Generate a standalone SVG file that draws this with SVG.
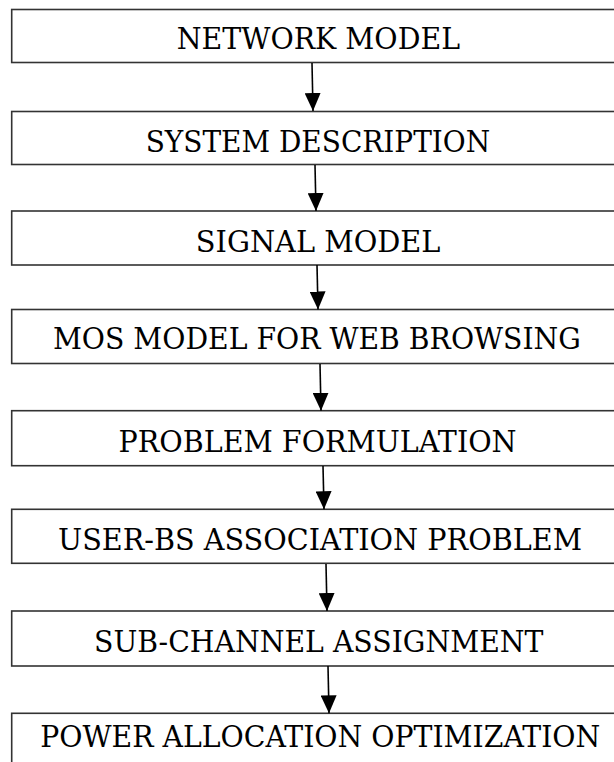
<svg xmlns="http://www.w3.org/2000/svg" width="614" height="762" viewBox="0 0 614 762">
<defs>
<style>
.box{fill:#fff;stroke:#333;stroke-width:1.6}
.lbl{font-family:'DejaVu Serif',serif;font-size:30px;fill:#000}
.conn{stroke:#000;stroke-width:1.6;fill:none}
</style>
<marker id="ah" markerWidth="18" markerHeight="16" refX="18" refY="8" orient="auto" markerUnits="userSpaceOnUse">
<path d="M0,0 L18,8 L0,16 Z" fill="#000"/>
</marker>
</defs>
<rect width="614" height="762" fill="#fff"/>
<g id="n1"><rect class="box" x="11.7" y="9.5" width="620" height="53"/><text class="lbl" x="176.7" y="49.3" textLength="283.3" lengthAdjust="spacingAndGlyphs">NETWORK MODEL</text></g>
<g id="n2"><rect class="box" x="11.7" y="111.5" width="620" height="53"/><text class="lbl" x="145.7" y="151.7" textLength="344.5" lengthAdjust="spacingAndGlyphs">SYSTEM DESCRIPTION</text></g>
<g id="n3"><rect class="box" x="11.7" y="211" width="620" height="54"/><text class="lbl" x="195.8" y="251.7" textLength="244.7" lengthAdjust="spacingAndGlyphs">SIGNAL MODEL</text></g>
<g id="n4"><rect class="box" x="11.7" y="309.5" width="620" height="54"/><text class="lbl" x="52.9" y="348.8" textLength="528" lengthAdjust="spacingAndGlyphs">MOS MODEL FOR WEB BROWSING</text></g>
<g id="n5"><rect class="box" x="11.7" y="410.7" width="620" height="55"/><text class="lbl" x="118.6" y="451.7" textLength="398" lengthAdjust="spacingAndGlyphs">PROBLEM FORMULATION</text></g>
<g id="n6"><rect class="box" x="11.7" y="509.3" width="620" height="54"/><text class="lbl" x="58" y="550" textLength="524" lengthAdjust="spacingAndGlyphs">USER-BS ASSOCIATION PROBLEM</text></g>
<g id="n7"><rect class="box" x="11.7" y="611" width="620" height="55"/><text class="lbl" x="94" y="651.7" textLength="449.5" lengthAdjust="spacingAndGlyphs">SUB-CHANNEL ASSIGNMENT</text></g>
<g id="n8"><rect class="box" x="11.7" y="713.3" width="620" height="60"/><text class="lbl" x="40.3" y="746.7" textLength="560" lengthAdjust="spacingAndGlyphs">POWER ALLOCATION OPTIMIZATION</text></g>
<g id="connectors">
<line class="conn" x1="312" y1="63" x2="313" y2="111" marker-end="url(#ah)"/>
<line class="conn" x1="315" y1="165" x2="316" y2="211" marker-end="url(#ah)"/>
<line class="conn" x1="317" y1="265" x2="318" y2="309.5" marker-end="url(#ah)"/>
<line class="conn" x1="320" y1="364" x2="321" y2="410.7" marker-end="url(#ah)"/>
<line class="conn" x1="323" y1="466" x2="324" y2="509.3" marker-end="url(#ah)"/>
<line class="conn" x1="326" y1="564" x2="327" y2="611" marker-end="url(#ah)"/>
<line class="conn" x1="328" y1="666" x2="329" y2="713.3" marker-end="url(#ah)"/>
</g>
</svg>
